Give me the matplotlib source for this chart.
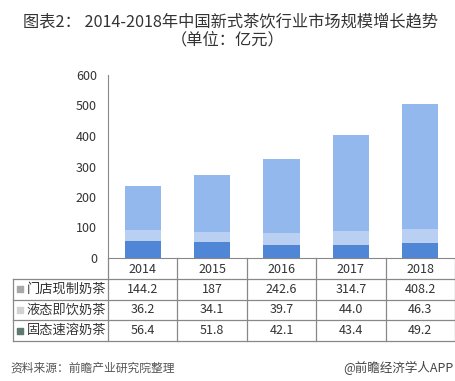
import numpy as np
import matplotlib.pyplot as plt

plt.rcParams['font.family'] = ['Noto Sans CJK SC', 'DejaVu Sans']

years = ['2014', '2015', '2016', '2017', '2018']
series = ['门店现制奶茶', '液态即饮奶茶', '固态速溶奶茶']
shop = [144.2, 187, 242.6, 314.7, 408.2]
liquid = [36.2, 34.1, 39.7, 44.0, 46.3]
solid = [56.4, 51.8, 42.1, 43.4, 49.2]
shop_txt = ['144.2', '187', '242.6', '314.7', '408.2']
liquid_txt = ['36.2', '34.1', '39.7', '44.0', '46.3']
solid_txt = ['56.4', '51.8', '42.1', '43.4', '49.2']

bar_cols = ['#93b8ee', '#b9d0f3', '#4f86d6']
mark_cols = ['#a8a8a8', '#d2d2d2', '#5f7a70']
line_col = '#888888'
txt_col = '#333333'

W, H = 456, 381
fig = plt.figure(figsize=(W / 100, H / 100), dpi=100)

# bar chart
ax = fig.add_axes([108 / W, (H - 258) / H, 347 / W, 183 / H])
x = np.arange(len(years)) + 0.5
ax.bar(x, solid, width=0.52, color=bar_cols[2])
ax.bar(x, liquid, width=0.52, bottom=solid, color=bar_cols[1])
ax.bar(x, shop, width=0.52, bottom=np.array(solid) + np.array(liquid), color=bar_cols[0])
ax.set_xlim(0, 5)
ax.set_ylim(0, 600)
ax.set_yticks(range(0, 601, 100))
ax.set_xticks([])
ax.tick_params(axis='y', length=0, labelsize=9, labelcolor=txt_col, pad=8)
for s in ['top', 'right']:
    ax.spines[s].set_visible(False)
ax.spines['left'].set_color(line_col)
ax.spines['bottom'].set_color(line_col)

# data table
tx = fig.add_axes([13 / W, (H - 341) / H, 442 / W, 83 / H])
lw = (108 - 13) / (347 / 5)
tx.set_xlim(-lw, 5)
tx.set_ylim(4, 0)
tx.axis('off')
for r in range(1, 5):
    tx.plot([-lw, 5], [r, r], color=line_col, lw=0.9, clip_on=False)
tx.plot([-lw, -lw], [1, 4], color=line_col, lw=0.9, clip_on=False)
for c in range(0, 6):
    tx.plot([c, c], [0, 4], color=line_col, lw=0.9, clip_on=False)
for i, yr in enumerate(years):
    tx.text(i + 0.5, 0.55, yr, ha='center', va='center', fontsize=9, color=txt_col)
rows = [shop_txt, liquid_txt, solid_txt]
for r, (name, vals) in enumerate(zip(series, rows)):
    yc = r + 1.5
    tx.scatter([-lw + 0.1], [yc], marker='s', s=14, color=mark_cols[r], clip_on=False)
    tx.text(-lw + 0.2, yc, name, ha='left', va='center', fontsize=9.5, color=txt_col)
    for i, v in enumerate(vals):
        tx.text(i + 0.5, yc, v, ha='center', va='center', fontsize=9, color=txt_col)

# titles and notes
fig.text(23 / W, 1 - 22 / H, '图表2： 2014-2018年中国新式茶饮行业市场规模增长趋势',
         ha='left', va='center', fontsize=11.7, color=txt_col)
fig.text(228 / W, 1 - 40 / H, '（单位：亿元）', ha='center', va='center',
         fontsize=11.7, color=txt_col)
fig.text(10 / W, 1 - 368 / H, '资料来源：前瞻产业研究院整理', ha='left', va='center',
         fontsize=8.5, color='#555555', style='italic')
fig.text(343 / W, 1 - 368 / H, '@前瞻经济学人APP', ha='left', va='center',
         fontsize=9, color='#444444')

fig.savefig('out.png', dpi=100)
